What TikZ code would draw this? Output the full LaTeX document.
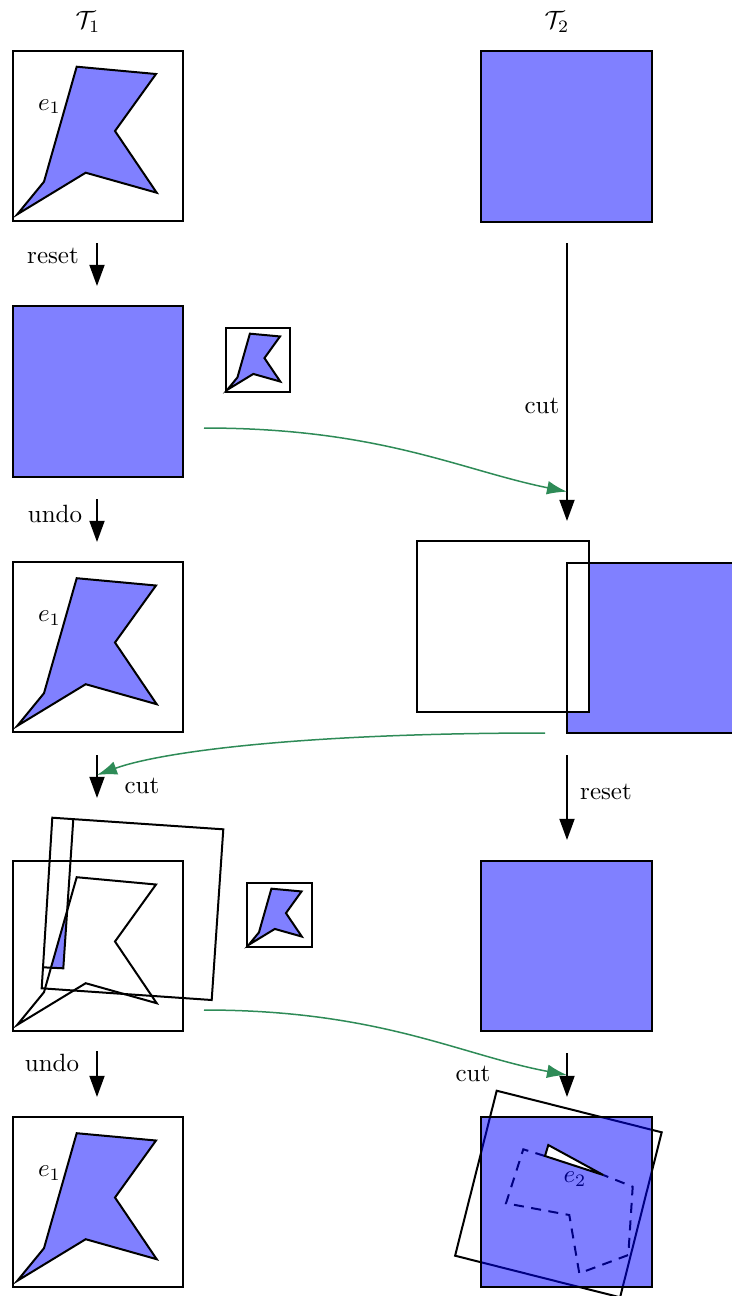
\documentclass[tikz,border=0pt]{standalone}
\usetikzlibrary{arrows.meta}
\definecolor{lblue}{RGB}{128,128,255}
\definecolor{grn}{RGB}{46,139,87}
\tikzset{
  arr/.style={thick, -{Triangle[length=8.5pt,width=6pt]}},
  garr/.style={grn, line width=0.6pt, -{Latex[length=8pt,width=5.5pt]}},
  frame/.style={thick},
  shapefill/.style={thick, fill=lblue},
  lbl/.style={inner sep=1pt}
}
\begin{document}
\begin{tikzpicture}[x=0.4pt,y=-0.4pt]
\useasboundingbox (0,0) rectangle (732,1296);
\clip (0,0) rectangle (732,1296);
\def\shp{(4.8,163.8) -- (31.5,131.2) -- (64.2,16.2) -- (143.5,23.5) -- (102.5,80.5) -- (144.2,142.2) -- (73.2,122.2) -- cycle}

\node[lbl] (T1) at (88,22) {$\mathcal{T}_1$};
\node[lbl] (T2) at (557,22) {$\mathcal{T}_2$};

% ---------- left column ----------
% row 1
\begin{scope}[shift={(12.5,50.5)}]
  \draw[frame] (0,0) rectangle (170,170);
  \draw[shapefill] \shp;
  \node[lbl] (e1a) at (37,56) {$e_1$};
\end{scope}
% row 2
\draw[shapefill] (12.5,306) rectangle (182.5,477);
\begin{scope}[shift={(225.5,327.5)}, scale=0.38]
  \draw[frame] (0,0) rectangle (170,170);
  \draw[shapefill] \shp;
\end{scope}
% row 3
\begin{scope}[shift={(12.5,562)}]
  \draw[frame] (0,0) rectangle (170,170);
  \draw[shapefill] \shp;
  \node[lbl] (e1b) at (37,56) {$e_1$};
\end{scope}
% row 4
\draw[frame] (12.5,861) rectangle (182.5,1031);
\begin{scope}
  \clip (73.3,819.2) -- (63.3,968.3) -- (43.3,967.3) -- (52.3,817.7) -- cycle;
  \fill[lblue, shift={(12.5,861)}] \shp;
\end{scope}
\draw[thick, shift={(12.5,861)}] \shp;
\draw[thick] (52.3,817.7) -- (223.3,829.3) -- (211.7,1000) -- (41.7,988.3) -- cycle;
\draw[thick] (73.3,819.2) -- (63.3,968.3) -- (43.1,967.3);
\begin{scope}[shift={(247,882.5)}, scale=0.38]
  \draw[frame] (0,0) rectangle (170,170);
  \draw[shapefill] \shp;
\end{scope}
% row 5
\begin{scope}[shift={(12.5,1117)}]
  \draw[frame] (0,0) rectangle (170,170);
  \draw[shapefill] \shp;
  \node[lbl] (e1c) at (37,56) {$e_1$};
\end{scope}

% ---------- right column ----------
\draw[shapefill] (481,50.5) rectangle (652,221.5);
% row 3
\fill[lblue] (567,563) rectangle (738,733);
\fill[white] (417.3,541) rectangle (588.5,712);
\draw[frame] (567,563) rectangle (738,733);
\draw[frame] (417.3,541) rectangle (588.5,712);
% row 4
\draw[shapefill] (481,861) rectangle (652,1031);
% row 5
\draw[thick] (496.7,1090.7) -- (661.7,1132.3) -- (620.1,1297.3) -- (455.1,1255.7) -- cycle;
\draw[thick, dash pattern=on 4pt off 3pt] (545,1156) -- (523.3,1149.3) -- (506,1203.3) -- (569.3,1215) -- (579.3,1273.3) -- (628.3,1255) -- (632.7,1186.7) -- (603.3,1175);
\node[lbl] (e2) at (575,1179) {$e_2$};
\fill[blue, opacity=0.5] (481,1117) rectangle (652,1287);
\draw[frame] (481,1117) rectangle (652,1287);
\draw[thick, fill=white] (548.3,1145) -- (545,1156) -- (603.3,1175) -- cycle;

% ---------- black arrows ----------
\coordinate (l1s) at (97,243);  \coordinate (l1e) at (97,286);
\coordinate (l2s) at (97,499);  \coordinate (l2e) at (97,542);
\coordinate (l3s) at (97,755);  \coordinate (l3e) at (97,798);
\coordinate (l4s) at (97,1051); \coordinate (l4e) at (97,1097);
\coordinate (r1s) at (567,243); \coordinate (r1e) at (567,521);
\coordinate (r2s) at (567,755); \coordinate (r2e) at (567,840);
\coordinate (r3s) at (567,1053); \coordinate (r3e) at (567,1097);
\draw[arr] (l1s) -- (l1e);
\draw[arr] (l2s) -- (l2e);
\draw[arr] (l3s) -- (l3e);
\draw[arr] (l4s) -- (l4e);
\draw[arr] (r1s) -- (r1e);
\draw[arr] (r2s) -- (r2e);
\draw[arr] (r3s) -- (r3e);
\node[lbl] (lab1) at (53,256) {reset};
\node[lbl] (lab2) at (55,514) {undo};
\node[lbl] (lab3) at (142,786) {cut};
\node[lbl] (lab4) at (52,1063) {undo};
\node[lbl] (lab5) at (542,406) {cut};
\node[lbl] (lab6) at (606,792) {reset};
\node[lbl] (lab7) at (473,1074) {cut};

% ---------- green arrows ----------
\coordinate (g1s) at (204,428);  \coordinate (g1e) at (567,491.7);
\coordinate (g2s) at (545,733);  \coordinate (g2e) at (97,775);
\coordinate (g3s) at (204,1010); \coordinate (g3e) at (567,1075);
\draw[garr] (g1s) .. controls (380,428) and (460,470) .. (g1e);
\draw[garr] (g2s) .. controls (300,733) and (160,752) .. (g2e);
\draw[garr] (g3s) .. controls (380,1010) and (460,1055) .. (g3e);
\end{tikzpicture}
\end{document}
